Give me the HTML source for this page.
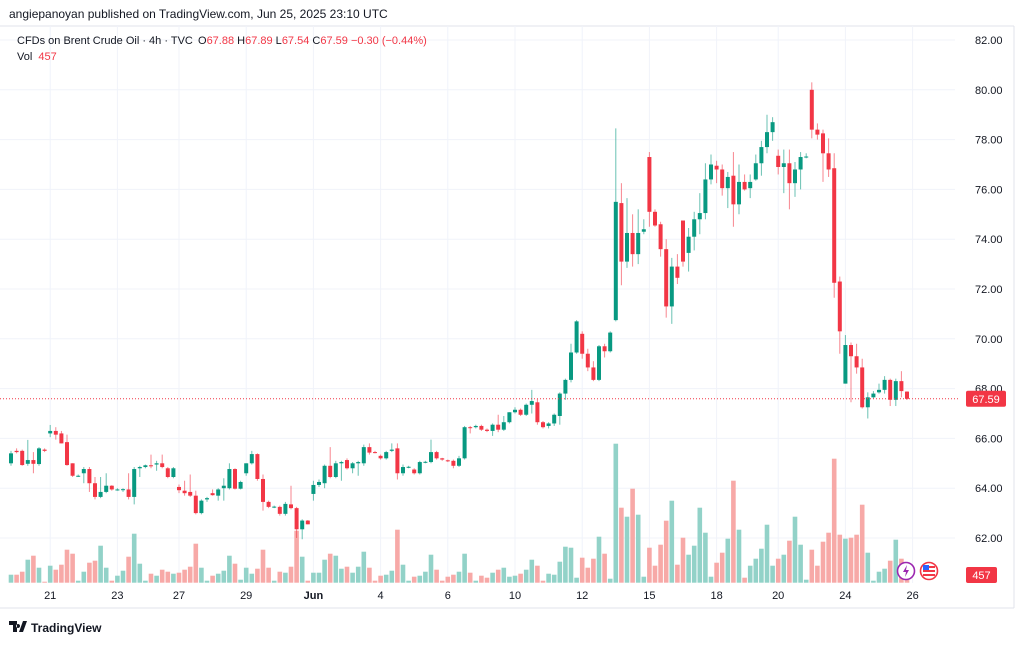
<!DOCTYPE html>
<html><head><meta charset="utf-8">
<style>
html,body{margin:0;padding:0;background:#fff;}
svg text{font-family:"Liberation Sans",sans-serif;}
</style></head>
<body>
<svg id="chart" width="1024" height="642" viewBox="0 0 1024 642" xmlns="http://www.w3.org/2000/svg">
<rect x="0" y="0" width="1024" height="642" fill="#ffffff"/>
<text x="9" y="18" font-size="12" fill="#131722">angiepanoyan published on TradingView.com, Jun 25, 2025 23:10 UTC</text>
<line x1="0" y1="26" x2="1014" y2="26" stroke="#e0e3eb"/>
<line x1="1014" y1="26" x2="1014" y2="608" stroke="#e0e3eb"/>
<line x1="0" y1="608" x2="1014" y2="608" stroke="#e0e3eb"/>
<g id="grid"></g>
<g id="vols"></g>
<g id="candles"></g>
<g id="yaxis"></g>
<g id="xaxis"></g>
<g>
<text x="17" y="44" font-size="11" fill="#131722">CFDs on Brent Crude Oil · 4h · TVC</text>
<text x="198" y="44" font-size="11" fill="#131722">O<tspan fill="#f23645">67.88</tspan>  H<tspan fill="#f23645">67.89</tspan>  L<tspan fill="#f23645">67.54</tspan>  C<tspan fill="#f23645">67.59</tspan>  <tspan fill="#f23645">−0.30 (−0.44%)</tspan></text>
<text x="17" y="60" font-size="11" fill="#131722">Vol <tspan fill="#f23645" dx="3">457</tspan></text>
</g>
<g>
<circle cx="906" cy="571" r="8.5" fill="#fff" stroke="#9c27b0" stroke-width="1.6"/>
<path d="M907 565 L903 572 L906 572 L905 577 L909 570 L906 570 Z" fill="#9c27b0"/>
<circle cx="929" cy="571" r="8.5" fill="#fff" stroke="#f23645" stroke-width="1.6"/>
<rect x="923" y="566" width="12" height="2" fill="#f23645"/><rect x="923" y="570" width="12" height="2" fill="#f23645"/><rect x="923" y="574" width="12" height="2" fill="#f23645"/>
<rect x="923" y="565" width="6" height="5" fill="#2962ff"/>
</g>
<g>
<path d="M9 621 h8 v11 h-4 v-7 h-4 Z M19 632 l4 -11 h4 l-4 11 Z M18 624 a2 2 0 1 0 0.1 0" fill="#131722"/>
<text x="31" y="632" font-size="12" font-weight="bold" fill="#131722">TradingView</text>
</g>
</svg>
<script>
const opens=[65.0,65.5,65.5,64.98,65.13,64.97,65.55,66.2,66.3,66.2,65.85,65.0,64.5,64.6,64.77,64.2,63.65,63.85,64.1,63.95,63.95,63.95,63.65,64.8,64.85,64.92,64.95,65.0,64.8,64.45,64.05,63.9,63.85,63.7,63.0,63.55,63.8,63.7,64.0,64.0,64.77,63.98,64.6,65.0,65.37,64.37,63.45,63.25,63.25,62.97,63.35,63.2,62.35,62.7,63.77,64.13,64.2,64.9,64.45,65.0,65.13,64.8,65.0,65.0,65.65,65.45,65.3,65.2,65.5,65.6,64.6,64.85,64.75,64.6,65.05,65.05,65.45,65.2,65.12,65.1,64.9,65.2,66.45,66.45,66.5,66.35,66.3,66.55,66.35,66.65,67.05,67.15,66.95,67.35,67.45,66.65,66.5,66.6,66.9,67.8,68.35,69.45,70.2,69.4,68.85,68.35,69.7,69.5,70.75,75.45,73.1,74.25,73.4,74.3,77.3,75.1,74.6,73.6,71.3,72.9,74.75,73.45,74.1,74.8,75.05,76.4,76.95,76.8,76.05,76.55,75.4,76.3,76.05,76.4,77.05,77.7,78.3,77.35,76.9,77.05,76.25,76.8,77.3,80.0,78.4,78.25,77.45,76.85,72.3,68.2,69.75,69.3,68.85,67.25,67.65,67.85,67.95,68.35,67.55,68.3,67.88];
const highs=[65.5,65.6,65.55,65.94,65.45,65.65,65.6,66.54,66.45,66.3,66.15,65.0,64.55,64.85,64.85,64.45,64.45,64.6,64.12,64.0,64.0,64.6,64.85,64.9,64.95,65.35,65.1,65.35,64.85,64.85,64.15,64.3,64.55,63.9,63.55,63.65,63.95,64.0,64.4,65.0,64.8,64.3,65.0,65.5,65.4,64.55,63.5,63.3,63.3,63.45,64.1,63.25,62.75,62.72,64.3,64.35,64.95,65.65,65.1,65.1,65.2,65.05,65.1,65.75,65.8,65.5,65.35,65.5,65.8,65.8,64.95,64.9,64.8,65.1,65.1,65.95,65.5,65.22,65.15,65.15,65.3,66.5,66.5,66.55,66.55,66.4,66.6,66.95,66.9,67.05,67.25,67.2,67.4,67.95,67.6,66.7,66.65,67.0,67.85,68.4,69.8,70.75,70.3,69.6,69.1,69.75,69.8,70.3,78.45,76.25,75.65,75.0,75.2,74.8,77.5,75.2,74.7,74.0,73.25,73.4,74.75,74.45,75.1,75.85,77.05,77.4,77.15,77.0,76.7,77.5,77.0,76.6,76.6,77.4,77.95,79.0,78.9,77.6,77.6,77.6,77.1,77.5,77.45,80.3,78.65,78.4,78.05,77.45,72.5,70.15,69.85,69.8,69.2,67.85,67.9,68.2,68.5,68.4,68.4,68.7,67.89];
const lows=[64.9,65.4,64.9,64.9,64.6,64.9,65.45,66.05,65.95,65.8,64.9,64.45,64.45,64.2,63.85,63.55,63.6,63.8,63.9,63.9,63.85,63.55,63.35,64.45,64.8,64.8,64.7,64.8,64.4,64.4,63.8,63.7,63.65,62.95,62.95,63.45,63.7,63.5,63.5,63.95,63.95,63.95,64.5,64.95,64.3,63.1,63.2,63.2,62.9,62.9,63.15,62.0,61.95,62.55,63.5,64.05,64.0,64.4,64.4,64.3,64.75,64.6,64.5,64.9,65.35,65.4,65.15,65.15,65.45,64.35,64.5,64.8,64.55,64.55,65.0,65.0,65.15,65.1,65.05,64.8,64.85,65.15,66.2,66.4,66.3,66.25,66.1,66.25,66.3,66.6,67.0,66.9,66.9,67.0,66.55,66.4,66.4,66.5,66.55,67.55,68.25,69.4,69.2,68.7,68.3,68.3,69.25,69.45,70.7,72.15,72.85,72.9,73.0,74.2,74.5,74.5,73.3,70.85,70.6,72.2,72.9,72.7,73.55,74.2,74.8,76.2,76.25,75.75,75.25,74.5,75.0,75.95,75.65,76.35,76.55,77.45,77.95,76.6,75.85,75.2,75.7,76.0,77.25,78.05,78.0,76.3,76.5,71.65,69.4,68.2,67.45,68.6,67.2,66.8,67.6,67.8,67.8,67.3,67.3,67.65,67.54];
const closes=[65.4,65.45,64.93,65.13,64.98,65.6,65.5,66.3,66.15,65.8,64.93,64.5,64.5,64.77,64.2,63.65,63.85,64.1,63.95,63.95,63.96,63.65,64.77,64.85,64.92,64.9,65.0,64.85,64.45,64.8,63.92,63.8,63.7,63.0,63.5,63.6,63.72,63.95,64.1,64.77,63.98,64.25,65.0,65.37,64.37,63.45,63.25,63.26,62.97,63.37,63.2,62.35,62.7,62.55,64.13,64.25,64.9,64.45,65.0,65.05,64.8,65.0,65.05,65.65,65.43,65.44,65.2,65.45,65.55,64.6,64.85,64.86,64.6,65.05,65.06,65.45,65.2,65.15,65.1,64.9,65.2,66.45,66.42,66.5,66.35,66.3,66.55,66.35,66.65,67.05,67.15,66.95,67.35,67.5,66.65,66.45,66.6,66.95,67.8,68.35,69.45,70.7,69.4,68.85,68.35,69.7,69.5,70.25,75.5,73.1,74.25,73.4,74.25,74.4,75.1,74.55,73.6,71.3,72.9,72.45,73.1,74.1,74.8,75.05,76.4,77.0,76.8,76.05,76.5,75.4,76.3,76.0,76.3,77.05,77.7,78.3,78.7,76.9,77.05,76.25,76.8,77.3,77.32,78.4,78.2,77.45,76.8,72.25,70.3,69.75,69.3,68.85,67.25,67.65,67.8,67.95,68.35,67.55,68.3,67.9,67.59];
const volumes=[8,8,11,23,27,15,1,17,13,18,33,29,2,11,20,22,37,15,2,7,12,26,49,19,2,9,7,13,11,9,10,13,16,39,15,2,7,9,12,27,19,3,15,9,14,33,15,2,11,10,16,52,26,2,10,10,23,29,27,14,16,10,16,31,15,2,7,8,12,53,18,2,6,7,11,28,13,2,6,8,11,29,10,2,7,5,10,13,15,6,7,9,13,23,17,2,9,8,21,36,35,5,25,15,24,46,29,4,139,75,66,94,68,6,35,17,38,62,82,18,45,28,37,75,50,6,20,30,44,102,53,5,17,24,34,58,17,24,28,42,66,38,3,33,17,41,50,124,48,44,45,48,78,30,2,11,14,22,43,24,3];
const priceTicks=[62,64,66,68,70,72,74,76,78,80,82];
const dateLabels=["21","23","27","29","Jun","4","6","10","12","15","18","20","24","26"];
const dateIndex=[7,19,30,42,54,66,78,90,102,114,126,137,149,161];

const NS="http://www.w3.org/2000/svg";
const xOf=i=>11+i*5.6;
const yOf=p=>40+(82-p)*24.9;
const VBASE=582.7;
const vOf=v=>VBASE-v;
function mk(tag,attrs,parent){const e=document.createElementNS(NS,tag);for(const k in attrs)e.setAttribute(k,attrs[k]);parent.appendChild(e);return e;}
const grid=document.getElementById('grid'),yax=document.getElementById('yaxis'),xax=document.getElementById('xaxis');
const cg=document.getElementById('candles'),vg=document.getElementById('vols');
priceTicks.forEach(p=>{
  const l=mk('line',{x1:0,x2:955,y1:yOf(p),y2:yOf(p),stroke:'#f0f3fa'},grid);
  
  
  const t=mk('text',{x:975,y:yOf(p)+4,'font-size':11,fill:'#131722'},yax);
  t.textContent=p.toFixed(2);
  
  
});
dateLabels.forEach((d,k)=>{
  const x=xOf(dateIndex[k]);
  const l=mk('line',{x1:x,x2:x,y1:26,y2:583,stroke:'#f0f3fa'},grid);
  
  
  const t=mk('text',{x:x,y:599,'font-size':11,fill:'#131722','text-anchor':'middle','font-weight':d==='Jun'?'bold':'normal'},xax);
  t.textContent=d;
  
  
});
volumes.forEach((v,i)=>{
  const up=closes[i]>=opens[i];
  const r=mk('rect',{x:xOf(i)-2.3,y:vOf(v),width:4.6,height:v,fill:up?'#92d2c8':'#f7a9a7'},vg);
  
  
});
opens.forEach((o,i)=>{
  const c=closes[i],up=c>=o,col=up?'#089981':'#f23645',x=xOf(i);
  const g=mk('g',{},cg);
  
  
  mk('line',{x1:x,x2:x,y1:yOf(highs[i]),y2:yOf(lows[i]),stroke:col,'stroke-width':1,opacity:0.6},g);
  const top=yOf(Math.max(o,c)),bot=yOf(Math.min(o,c));
  mk('rect',{x:x-2,y:top,width:4,height:Math.max(1,bot-top),fill:col},g);
});
// last price line and labels
const last=closes[closes.length-1];
const pl=mk('line',{x1:0,x2:960,y1:yOf(last),y2:yOf(last),stroke:'#f23645','stroke-dasharray':'1,2','stroke-width':1},yax);


const pb=mk('rect',{x:966,y:yOf(last)-8,width:40,height:16,rx:2,fill:'#f23645'},yax);


const pt=mk('text',{x:986,y:yOf(last)+4,'font-size':11,fill:'#fff','text-anchor':'middle'},yax);
pt.textContent=last.toFixed(2);


const vb=mk('rect',{x:966,y:567,width:31,height:16,rx:2,fill:'#f23645'},yax);


const vt=mk('text',{x:981.5,y:579,'font-size':11,fill:'#fff','text-anchor':'middle'},yax);
vt.textContent='457';


</script>
</body></html>
